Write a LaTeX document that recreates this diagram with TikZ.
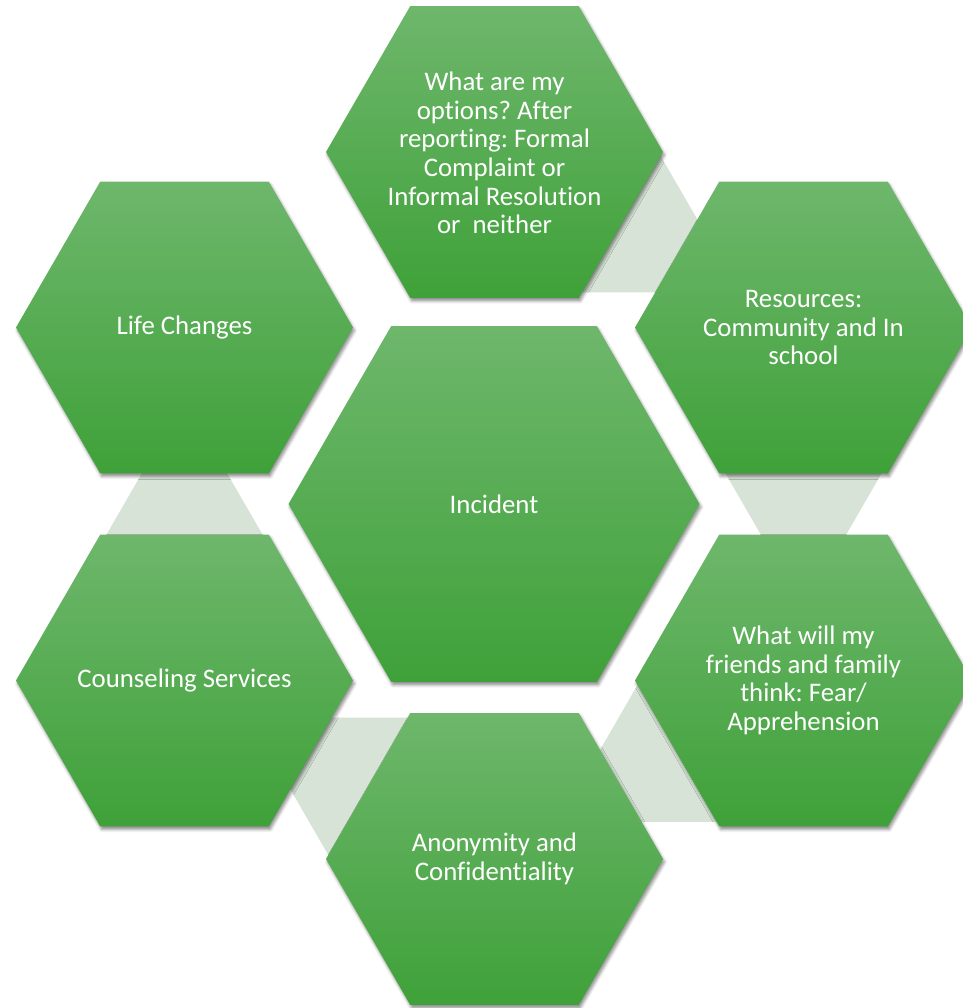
\documentclass[tikz,border=0pt]{standalone}
\usepackage{fontspec}
\setmainfont{Carlito}[Ligatures=NoCommon]
\usetikzlibrary{shapes.geometric,shadows.blur}
\definecolor{hexTop}{HTML}{6EB76C}
\definecolor{hexBot}{HTML}{3FA139}
\definecolor{linkGrey}{HTML}{D6E3D6}
\tikzset{
  hexbase/.style={regular polygon, regular polygon sides=6, inner sep=0pt, outer sep=0pt, draw=none},
  outerhex/.style={hexbase, minimum size=337pt, top color=hexTop, bottom color=hexBot,
    blur shadow={shadow xshift=1.5pt, shadow yshift=-3pt, shadow blur radius=3pt, shadow opacity=45}},
  centerhex/.style={outerhex, minimum size=411pt},
  linkhex/.style={hexbase, minimum size=160pt, fill=linkGrey},
  hextext/.style={text=white, align=center, inner sep=0pt, font=\fontsize{26.8}{28.6}\selectfont}
}
\frenchspacing
\begin{document}
\begin{tikzpicture}[x=1pt,y=-1pt]
\useasboundingbox (0,0) rectangle (962,1008);
% connector hexagons
\node[linkhex] (g1) at (619.4,223) {};
\node[linkhex] (g2) at (803.5,470) {};
\node[linkhex] (g3) at (678.4,752.7) {};
\node[linkhex] (g4) at (368.9,786.8) {};
\node[linkhex] (g5) at (184.5,538) {};
% main hexagons
\node[centerhex] (inc) at (494,504) {};
\node[outerhex] (top) at (494.5,152) {};
\node[outerhex] (res) at (803.5,327.5) {};
\node[outerhex] (fear) at (803.5,680.5) {};
\node[outerhex] (anon) at (494.5,859) {};
\node[outerhex] (couns) at (184.5,680.5) {};
\node[outerhex] (life) at (184.5,327.5) {};
% texts
\node[hextext] (inct) at (inc.center) {Incident};
\node[hextext] (topt) at ([yshift=-1pt]top.center) {What are my\\options? After\\reporting: Formal\\Complaint or\\Informal Resolution\\or~ neither};
\node[hextext] (rest) at (res.center) {Resources:\\Community and In\\school};
\node[hextext] (feart) at (fear.center) {What will my\\friends and family\\think: Fear/\\Apprehension};
\node[hextext] (anont) at (anon.center) {Anonymity and\\Confidentiality};
\node[hextext] (counst) at (couns.center) {Counseling Services};
\node[hextext] (lifet) at (life.center) {Life Changes};
\end{tikzpicture}
\end{document}
